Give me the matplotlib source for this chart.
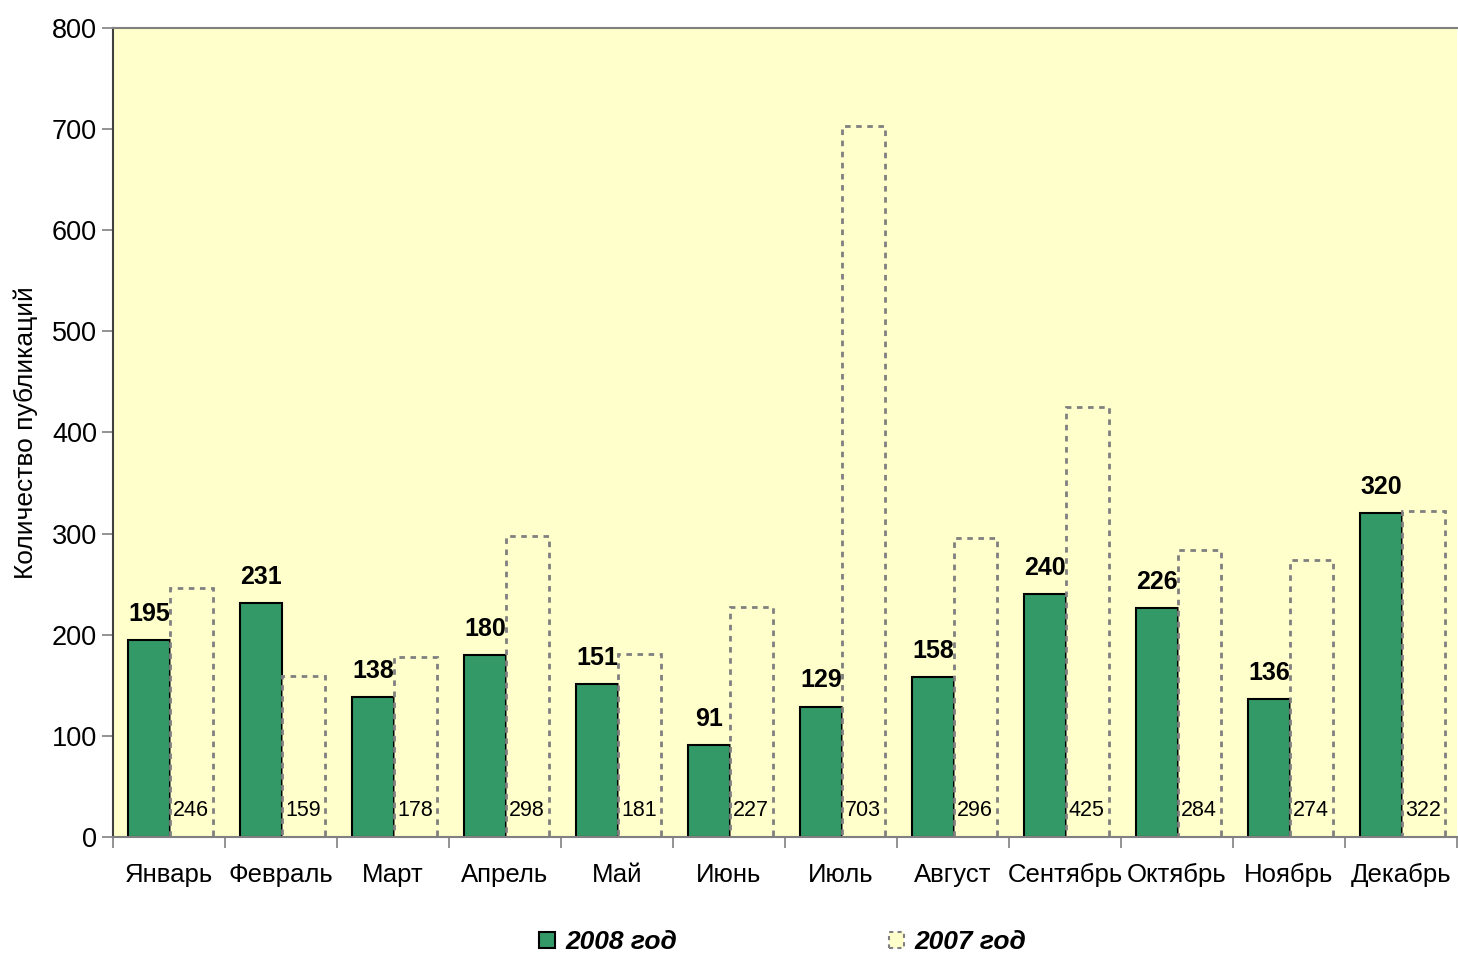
import matplotlib.pyplot as plt
import numpy as np
from matplotlib.patches import Rectangle

plt.rcParams['font.family'] = ['Liberation Sans', 'DejaVu Sans']

months = ["Январь", "Февраль", "Март", "Апрель", "Май", "Июнь",
          "Июль", "Август", "Сентябрь", "Октябрь", "Ноябрь", "Декабрь"]
y2008 = [195, 231, 138, 180, 151, 91, 129, 158, 240, 226, 136, 320]
y2007 = [246, 159, 178, 298, 181, 227, 703, 296, 425, 284, 274, 322]

bg = "#FFFFCC"
green = "#339966"

fig = plt.figure(figsize=(14.58, 9.56), dpi=100)
ax = fig.add_axes([0.0775, 0.1245, 0.9218, 0.8462])
ax.set_facecolor(bg)

x = np.arange(len(months))
w = 0.38
ax.bar(x - w / 2 + 0.01, y2008, w, color=green, edgecolor="black", linewidth=1.5)
ax.bar(x + w / 2 + 0.01, y2007, w, color=bg, edgecolor="#808080", linewidth=2,
       linestyle=(0, (2, 2)))

for xi, v in zip(x, y2008):
    ax.text(xi - w / 2 + 0.01, v + 14, str(v), ha="center", va="bottom",
            fontsize=18, fontweight="bold")
for xi, v in zip(x, y2007):
    ax.text(xi + 0.035, 16, str(v), ha="left", va="bottom", fontsize=15.5)

ax.set_xlim(-0.5, len(months) - 0.5)
ax.set_ylim(0, 800)
ax.set_yticks(range(0, 801, 100))
ax.tick_params(axis="y", labelsize=19.5, length=8, width=1.2, color="#808080")
ax.set_xticks(x)
ax.set_xticklabels(months, fontsize=18.5)
ax.tick_params(axis="x", length=0, pad=19)
ax.set_xticks(np.arange(-0.5, len(months), 1), minor=True)
ax.tick_params(axis="x", which="minor", length=8, width=1.2, color="#808080")

ax.spines["right"].set_visible(False)
ax.spines["top"].set_color("#808080")
ax.spines["bottom"].set_color("#808080")
ax.spines["left"].set_color("#404040")
for s in ax.spines.values():
    s.set_linewidth(1.5)

ax.set_ylabel("Количество публикаций", fontsize=19, labelpad=10)

h1 = Rectangle((0, 0), 1, 1, facecolor=green, edgecolor="black", linewidth=1.5)
h2 = Rectangle((0, 0), 1, 1, facecolor=bg, edgecolor="#808080", linewidth=1.5,
               linestyle=(0, (2, 2)))
fig.legend([h1, h2], ["2008 год", "2007 год"], loc="lower center",
           bbox_to_anchor=(0.537, -0.023), ncol=2, frameon=False,
           prop={"size": 19, "weight": "bold", "style": "italic"},
           handlelength=0.6, handleheight=0.6, handletextpad=0.4,
           columnspacing=8.0)

fig.savefig("out.png", dpi=100)
